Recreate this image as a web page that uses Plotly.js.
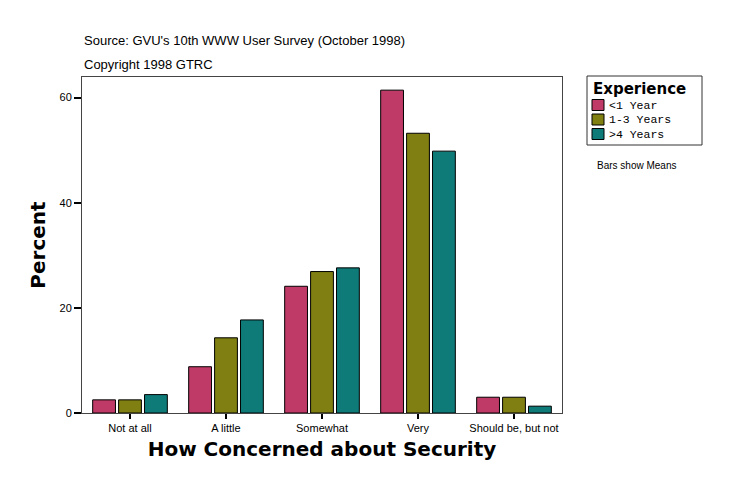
<!DOCTYPE html>
<html>
<head>
<meta charset="utf-8">
<script src="https://cdn.plot.ly/plotly-3.0.1.min.js"></script>
<style>body{margin:0;background:#fff}</style>
</head>
<body>
<div id="chart" style="width:736px;height:496px"></div>
<script>
// categories and means
var categories = ["Not at all", "A little", "Somewhat", "Very", "Should be, but not"];
var lessThan1 = [2.5, 8.8, 24.1, 61.4, 3.0];
var oneToThree = [2.5, 14.3, 26.9, 53.2, 3.0];
var overFour = [3.5, 17.7, 27.6, 49.8, 1.3];
var seriesNames = ["<1 Year", "1-3 Years", ">4 Years"];
var yTicks = [0, 20, 40, 60];

var colors = ["#BF3A66", "#7F7F12", "#0E7B79"];
var allValues = [lessThan1, oneToThree, overFour];

var data = [];
for (var i = 0; i < 3; i++) {
  data.push({
    type: "bar",
    name: seriesNames[i],
    x: categories,
    y: allValues[i],
    marker: { color: colors[i], line: { color: "black", width: 1 } },
    hoverinfo: "y"
  });
}

// plot box is 82..562 px wide, 77..413 px tall; helpers to place legend bits in pixels
var L = 82, T = 77, W = 480, H = 336;
function px(x) { return (x - L) / W; }
function py(y) { return (T + H - y) / H; }

var shapes = [
  { type: "rect", xref: "paper", yref: "paper", x0: px(587), x1: px(702), y0: py(145), y1: py(76),
    line: { color: "#333", width: 1 }, fillcolor: "white" }
];
var annotations = [
  { text: "Source: GVU's 10th WWW User Survey (October 1998)", xref: "paper", yref: "paper",
    x: 0, y: py(41), xanchor: "left", yanchor: "middle", showarrow: false, font: { size: 13 } },
  { text: "Copyright 1998 GTRC", xref: "paper", yref: "paper",
    x: 0, y: py(65), xanchor: "left", yanchor: "middle", showarrow: false, font: { size: 13 } },
  { text: "Bars show Means", xref: "paper", yref: "paper",
    x: px(595), y: py(165), xanchor: "left", yanchor: "middle", showarrow: false, font: { size: 10 } },
  { text: "<b>Experience</b>", xref: "paper", yref: "paper",
    x: px(591), y: py(89), xanchor: "left", yanchor: "middle", showarrow: false,
    font: { family: "DejaVu Sans", size: 15, weight: 900 } }
];
for (var k = 0; k < 3; k++) {
  var yc = 105 + k * 14.5;
  shapes.push({ type: "rect", xref: "paper", yref: "paper", x0: px(592), x1: px(604),
    y0: py(yc + 5.5), y1: py(yc - 5.5), line: { color: "black", width: 1 }, fillcolor: colors[k] });
  annotations.push({ text: seriesNames[k].replace("<", "&lt;").replace(">", "&gt;"), xref: "paper", yref: "paper",
    x: px(607), y: py(yc), xanchor: "left", yanchor: "middle", showarrow: false,
    font: { family: "Liberation Mono, DejaVu Sans Mono", size: 11.5 } });
}

var layout = {
  width: 736, height: 496,
  margin: { l: L, r: 736 - L - W, t: T, b: 496 - T - H },
  paper_bgcolor: "white",
  plot_bgcolor: "white",
  barmode: "group",
  bargap: 0.19,
  bargroupgap: 0.12,
  showlegend: false,
  font: { family: "Liberation Sans, Arial", color: "black", size: 11 },
  xaxis: {
    type: "category",
    range: [-0.5, 4.5],
    ticks: "outside", ticklen: 5, tickwidth: 2, tickcolor: "black",
    showline: true, mirror: true, linecolor: "#444", linewidth: 1,
    showgrid: false,
    tickfont: { size: 11 },
    title: { text: "How Concerned about Security", font: { family: "DejaVu Sans", size: 20, weight: 900 }, standoff: 8 }
  },
  yaxis: {
    range: [0, 63.9],
    tickvals: yTicks,
    ticks: "outside", ticklen: 7, tickwidth: 2, tickcolor: "black",
    showline: true, mirror: true, linecolor: "#444", linewidth: 1,
    showgrid: false, zeroline: false,
    tickfont: { size: 11 },
    title: { text: "Percent", font: { family: "DejaVu Sans", size: 20, weight: 900 }, standoff: 8 }
  },
  shapes: shapes,
  annotations: annotations
};

Plotly.newPlot("chart", data, layout, { displayModeBar: false, staticPlot: true });
</script>
</body>
</html>
